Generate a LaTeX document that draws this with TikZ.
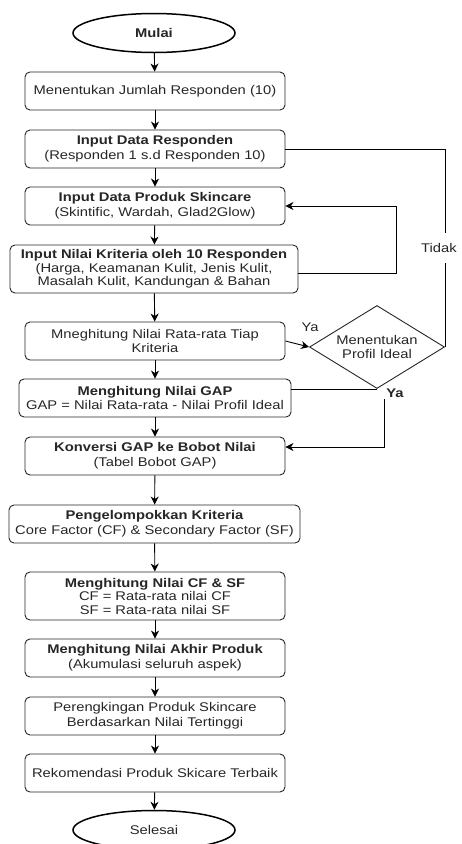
\documentclass[tikz,border=0pt]{standalone}
\usepackage{fontspec}
\setmainfont{Liberation Sans}[FakeStretch=1.17]
\usetikzlibrary{shapes,arrows.meta,positioning,calc}
\tikzset{terminal/.style={ellipse,draw=black,line width=1.5pt,inner sep=0pt,
minimum width=162pt,minimum height=39pt},
proc/.style={rectangle,rounded corners=5pt,draw=black!85,line width=0.9pt,inner sep=0pt,
minimum width=260pt,minimum height=38pt,align=center},
procwide/.style={proc,minimum width=288pt},
decision/.style={diamond,draw=black!85,line width=0.9pt,inner sep=0pt,aspect=1.63,
minimum width=135pt,minimum height=83pt,align=center},
tiny/.style={font=\fontsize{12.6}{13.5}\selectfont},
conn/.style={draw=black,line width=0.9pt},
>={Stealth[length=8pt,width=8pt,inset=2.5pt]}}

\begin{document}
\begin{tikzpicture}[x=1pt,y=-1pt,font=\fontsize{12.6}{14.8}\selectfont,text=black!85]
  \useasboundingbox (0,0) rectangle (461,844);
  \node (start) [terminal] at (154,33) {\textbf{Mulai}};
  \node (jml) [proc] at (155,91) {Menentukan Jumlah Responden (10)};
  \node (resp) [proc] at (155,149) {\textbf{Input Data Responden}\\(Responden 1 s.d Responden 10)};
  \node (prod) [proc] at (155,206) {\textbf{Input Data Produk Skincare}\\(Skintific, Wardah, Glad2Glow)};
  \node (krit) [procwide,tiny,minimum height=48pt] at (154,269)
    {\textbf{Input Nilai Kriteria oleh 10 Responden}\\(Harga, Keamanan Kulit, Jenis Kulit,\\Masalah Kulit, Kandungan \& Bahan};
  \node (rata) [proc] at (155,341) {Mneghitung Nilai Rata-rata Tiap\\Kriteria};
  \node (ideal) [decision] at (377,347) {Menentukan\\Profil Ideal};
  \node (gap) [proc,minimum width=272pt] at (155,398)
    {\textbf{Menghitung Nilai GAP}\\GAP = Nilai Rata-rata - Nilai Profil Ideal};
  \node (bobot) [proc] at (155,456) {\textbf{Konversi GAP ke Bobot Nilai}\\(Tabel Bobot GAP)};
  \node (kelompok) [proc,minimum width=291pt] at (154.5,524)
    {\textbf{Pengelompokkan Kriteria}\\Core Factor (CF) \& Secondary Factor (SF)};
  \node (cfsf) [proc,tiny,minimum height=48pt] at (155,596)
    {\textbf{Menghitung Nilai CF \& SF}\\CF = Rata-rata nilai CF\\SF = Rata-rata nilai SF};
  \node (akhir) [proc] at (155,658) {\textbf{Menghitung Nilai Akhir Produk}\\(Akumulasi seluruh aspek)};
  \node (rank) [proc] at (155,716) {Perengkingan Produk Skincare\\Berdasarkan Nilai Tertinggi};
  \node (rekom) [proc] at (155,773) {Rekomendasi Produk Skicare Terbaik};
  \node (stop) [terminal] at (154,830) {Selesai};

  \draw [conn,->] (start) -- (jml);
  \draw [conn,->] (jml) -- (resp);
  \draw [conn,->] (resp) -- (prod);
  \draw [conn,->] (prod) -- (krit);
  \draw [conn,->] (krit) -- (rata);
  \draw [conn,->] (rata) -- (gap);
  \draw [conn,->] (gap) -- (bobot);
  \draw [conn,->] (bobot) -- (kelompok);
  \draw [conn,->] (kelompok) -- (cfsf);
  \draw [conn,->] (cfsf) -- (akhir);
  \draw [conn,->] (akhir) -- (rank);
  \draw [conn,->] (rank) -- (rekom);
  \draw [conn,->] (rekom) -- (stop);

  % loop back and decision
  \draw [conn,->] ([yshift=-4pt]krit.east) -- ++(98,0) |- (prod.east);
  \draw [conn,->] (rata.east) -- (ideal.west);
  \node (ya1) at (310,327) {Ya};
  \draw [conn] (ideal.east) |- (resp.east)
    node [pos=0.25,xshift=-6pt,fill=white,inner xsep=0pt,inner ysep=10pt] {Tidak};
  \draw [conn] (ideal.south) -- (ideal.south -| gap.east);
  \node (ya2) at (395,393) {\textbf{Ya}};
  \coordinate (yaout) at (384,399);
  \draw [conn,->] (yaout) |- ([yshift=9pt]bobot.east);
\end{tikzpicture}
\end{document}
